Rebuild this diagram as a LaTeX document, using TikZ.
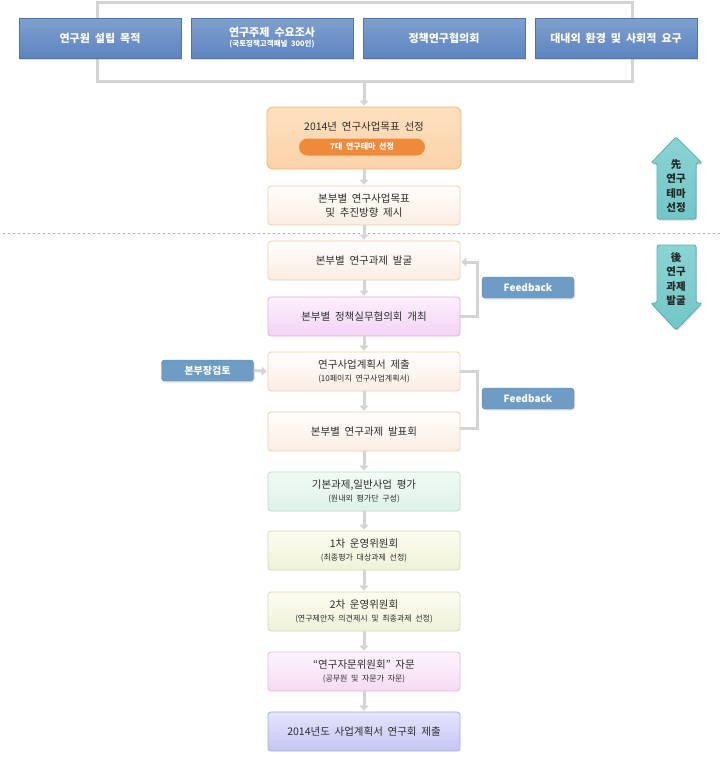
\documentclass[tikz,border=0pt]{standalone}
\usepackage{fontspec}
\setmainfont{Noto Sans CJK KR}[WordSpace=2]
\usetikzlibrary{arrows.meta,shadows}
\definecolor{tbT}{HTML}{7FA0D0}
\definecolor{tbB}{HTML}{5D84BF}
\definecolor{tbD}{HTML}{4B74B0}
\definecolor{oaT}{HTML}{FDE0C0}
\definecolor{oaB}{HTML}{FCD3A8}
\definecolor{oaD}{HTML}{F2B676}
\definecolor{pill}{HTML}{EF8A3B}
\definecolor{gnT}{HTML}{FFFEFD}
\definecolor{gnB}{HTML}{FBEDE3}
\definecolor{gnD}{HTML}{EDD1A9}
\definecolor{plT}{HTML}{FCF0FD}
\definecolor{plB}{HTML}{F2D3F5}
\definecolor{plD}{HTML}{D9B3DF}
\definecolor{mtT}{HTML}{F2FBF6}
\definecolor{mtB}{HTML}{DDF2E8}
\definecolor{mtD}{HTML}{BCDCC9}
\definecolor{ywT}{HTML}{FCFDF1}
\definecolor{ywB}{HTML}{EFF2D8}
\definecolor{ywD}{HTML}{D6DAB0}
\definecolor{pkT}{HTML}{FDF4FC}
\definecolor{pkB}{HTML}{F5DBF3}
\definecolor{pkD}{HTML}{DFBEDE}
\definecolor{lvT}{HTML}{E4E4FC}
\definecolor{lvB}{HTML}{C5C5F4}
\definecolor{lvD}{HTML}{A9A9DF}
\definecolor{fbF}{HTML}{6E9CC5}
\definecolor{fbD}{HTML}{5B89B5}
\definecolor{txt}{HTML}{2E2E2E}
\definecolor{lineg}{HTML}{D4D4D4}
\definecolor{dotg}{HTML}{A8A8A8}
\definecolor{saT}{HTML}{8AD4D4}
\definecolor{saB}{HTML}{72C6C7}
\definecolor{saD}{HTML}{5EB3B5}
\begin{document}
\begin{tikzpicture}[x=1pt,y=-1pt,
  topbox/.style={draw=tbD, top color=tbT, bottom color=tbB, minimum width=162pt, minimum height=40pt,
    inner sep=0pt, align=center, text=white, font=\fontsize{11}{13}\selectfont\bfseries,
    drop shadow={opacity=0.25, shadow xshift=1pt, shadow yshift=-1.5pt}},
  flowbox/.style={rounded corners=3pt, minimum width=192pt, minimum height=39pt, inner sep=0pt,
    align=center, text=txt, font=\fontsize{10.5}{13.5}\selectfont, line width=0.8pt},
  gen/.style={flowbox, draw=gnD, top color=gnT, bottom color=gnB},
  pol/.style={flowbox, draw=plD, top color=plT, bottom color=plB},
  mint/.style={flowbox, draw=mtD, top color=mtT, bottom color=mtB},
  yel/.style={flowbox, draw=ywD, top color=ywT, bottom color=ywB},
  pnk/.style={flowbox, draw=pkD, top color=pkT, bottom color=pkB},
  lav/.style={flowbox, draw=lvD, top color=lvT, bottom color=lvB},
  tagbox/.style={draw=fbD, fill=fbF, rounded corners=3pt, minimum width=92pt, minimum height=21pt,
    inner sep=0pt, text=white, font=\fontsize{10}{12}\selectfont\bfseries,
    drop shadow={opacity=0.2, shadow xshift=1pt, shadow yshift=-1.5pt}},
  conn/.style={draw=lineg, line width=3pt},
  arr/.style={conn, -{Triangle[width=9pt,length=5pt]}, shorten >=1pt},
  sidearrow/.style={draw=saD, top color=saT, bottom color=saB, line width=0.8pt, rounded corners=2pt,
    drop shadow={opacity=0.25, shadow xshift=1pt, shadow yshift=-1.5pt}},
  sidetext/.style={align=center, text=black!85, font=\fontsize{10.5}{14.5}\selectfont\bfseries}
]
\useasboundingbox (0,0) rectangle (721,761);
\fill[white] (0,0) rectangle (721,761);

% top bracket
\draw[conn] (97,2) rectangle (632,81);
\coordinate (brk) at (364,81);

% top boxes
\node[topbox] (t1) at (100,38) {연구원 설립 목적};
\node[topbox] (t2) at (272,38) {연구주제 수요조사\\[-3pt]{\fontsize{7.5}{9}\selectfont (국토정책고객패널 300인)}};
\node[topbox] (t3) at (444,38) {정책연구협의회};
\node[topbox] (t4) at (616,38) {대내외 환경 및 사회적 요구};

% box A
\node[rounded corners=6pt, draw=oaD, top color=oaT, bottom color=oaB, line width=0.8pt,
  minimum width=194pt, minimum height=62pt, inner sep=0pt] (a) at (364,138) {};
\node[text=txt, font=\fontsize{10.5}{12}\selectfont] (atext) at (364,127) {2014년 연구사업목표 선정};
\node[fill=pill, rounded corners=8.5pt, minimum width=126pt, minimum height=17pt, inner sep=0pt,
  text=white, font=\fontsize{8}{10}\selectfont\bfseries] (apill) at (362,147) {7대 연구테마 선정};

\node[gen] (b) at (364,205.5) {본부별 연구사업목표\\및 추진방향 제시};

% dotted separator
\draw[dotg, line width=1pt, dash pattern=on 2pt off 3pt] (3,233) -- (721,233);

\node[gen] (c) at (364,260.5) {본부별 연구과제 발굴};
\node[pol] (d) at (364,316.5) {본부별 정책실무협의회 개최};
\node[gen] (e) at (364,371.5) {연구사업계획서 제출\\[-1pt]{\fontsize{8}{10}\selectfont (10페이지 연구사업계획서)}};
\node[gen] (f) at (364,431.5) {본부별 연구과제 발표회};
\node[mint] (g) at (364,491.5) {기본과제,일반사업 평가\\[-1pt]{\fontsize{8}{10}\selectfont (원내외 평가단 구성)}};
\node[yel] (h) at (364,550.5) {1차 운영위원회\\[-1pt]{\fontsize{8}{10}\selectfont (최종평가 대상과제 선정)}};
\node[yel] (i) at (364,611.5) {2차 운영위원회\\[-1pt]{\fontsize{8}{10}\selectfont (연구제안자 의견제시 및 최종과제 선정)}};
\node[pnk] (j) at (364,671.5) {“연구자문위원회” 자문\\[-1pt]{\fontsize{8}{10}\selectfont (공무원 및 자문가 자문)}};
\node[lav] (k) at (364,731.5) {2014년도 사업계획서 연구회 제출};

% side tags
\node[tagbox] (fb1) at (528,287.5) {Feedback};
\node[tagbox] (fb2) at (528,398.5) {Feedback};
\node[tagbox] (rev) at (207.5,370.5) {본부장검토};

% flow connectors
\draw[arr] (brk) -- (a.north);
\draw[arr] (a.south) -- (b.north);
\draw[arr] (b.south) -- (c.north);
\draw[arr] (c.south) -- (d.north);
\draw[arr] (d.south) -- (e.north);
\draw[arr] (e.south) -- (f.north);
\draw[arr] (f.south) -- (g.north);
\draw[arr] (g.south) -- (h.north);
\draw[arr] (h.south) -- (i.north);
\draw[arr] (i.south) -- (j.north);
\draw[arr] (j.south) -- (k.north);

% feedback loops
\draw[arr] (d.east) -- ++(17,0) |- ([yshift=-1.5pt]c.east);
\draw[conn] (e.east) -- ++(17,0) |- ([yshift=3pt]f.east);
\draw[arr] (rev.east) -- (e.west);

% side arrows
\filldraw[sidearrow] (676,137) -- (702,163) -- (696,163) -- (696,219) -- (657,219) -- (657,163) -- (651,163) -- cycle;
\node[sidetext] (uptext) at (676,186) {先\\연구\\테마\\선정};
\filldraw[sidearrow] (657,245) -- (696,245) -- (696,303) -- (702,303) -- (676,330) -- (651,303) -- (657,303) -- cycle;
\node[sidetext] (dntext) at (676,279) {後\\연구\\과제\\발굴};
\end{tikzpicture}
\end{document}
